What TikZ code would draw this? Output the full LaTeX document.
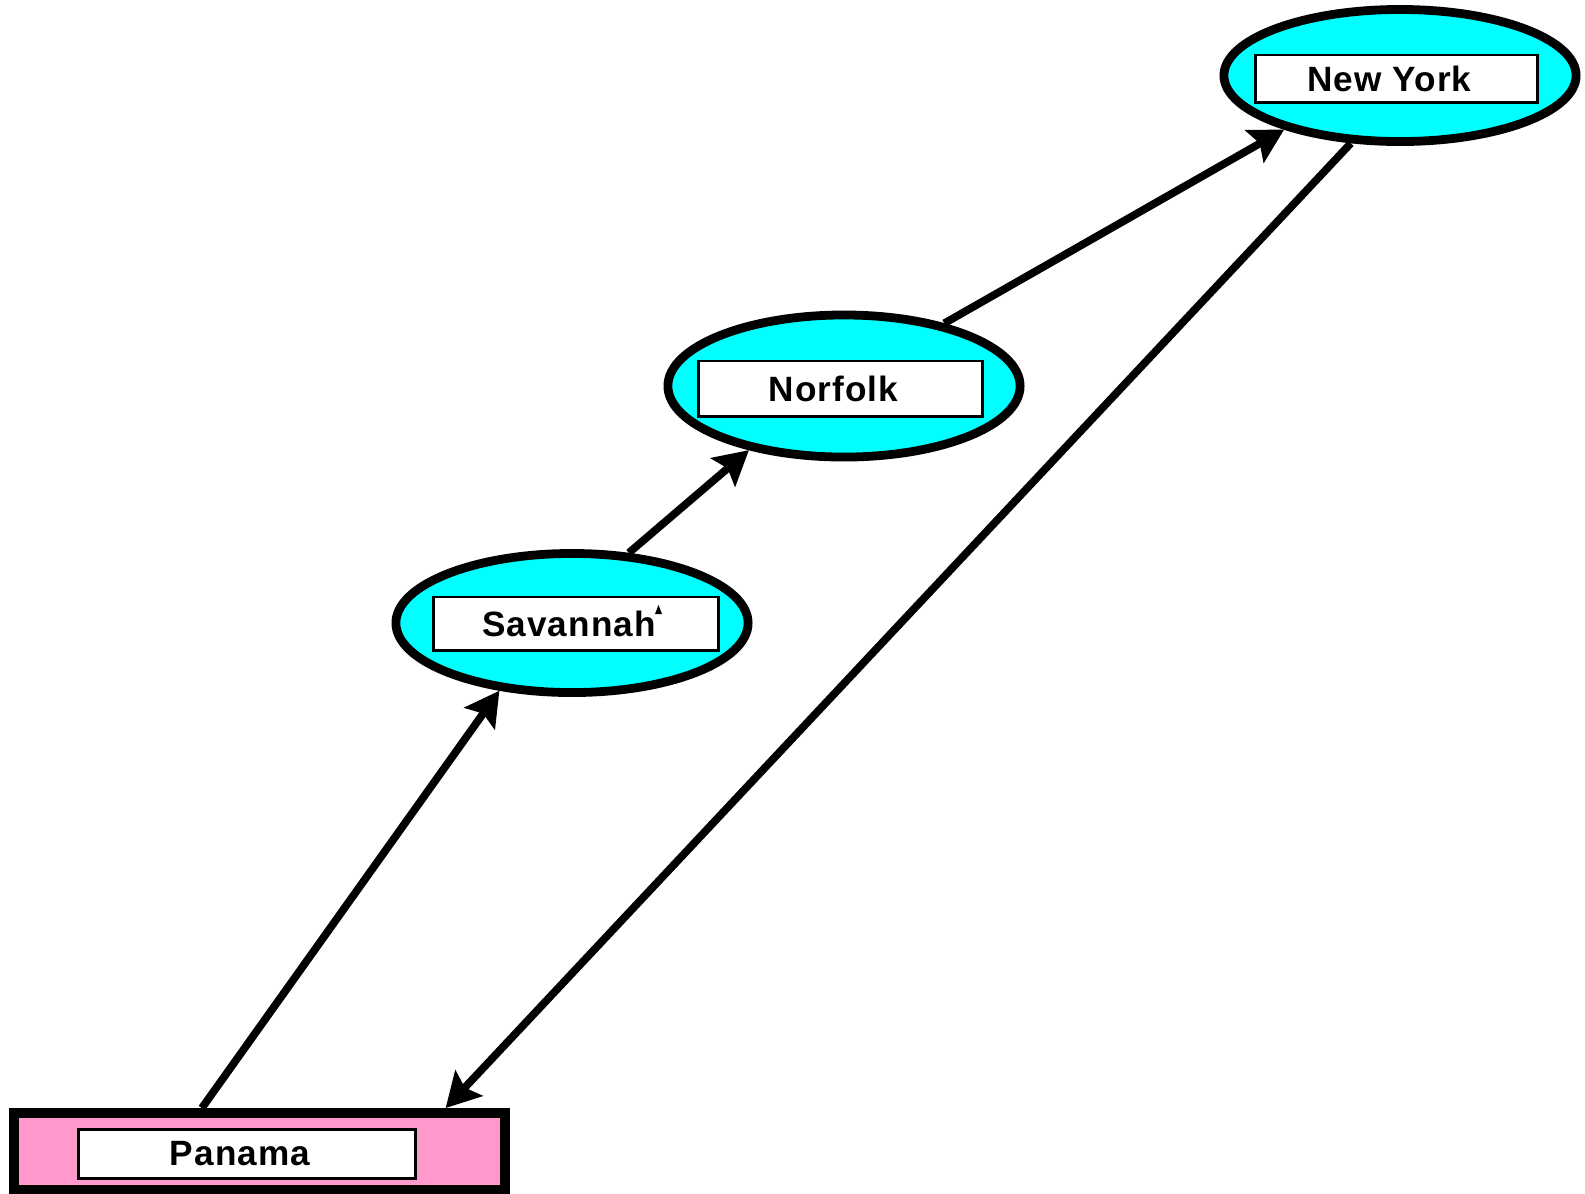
\documentclass[tikz,border=0pt]{standalone}
\usepackage{fontspec}
\setmainfont{Liberation Sans}[LetterSpace=3]
\usepackage{tikz}
\usetikzlibrary{positioning,shapes.geometric,arrows.meta}

\definecolor{portcyan}{RGB}{0,255,255}
\definecolor{canalpink}{RGB}{255,153,204}

\begin{document}
\begin{tikzpicture}[x=0.01cm, y=-0.01cm,
	port/.style = {ellipse, draw, line width=2.5pt, fill=portcyan, minimum width=3.52cm, minimum height=1.32cm, inner sep=0pt},
	tag/.style = {rectangle, draw, line width=0.85pt, fill=white, inner sep=0pt, font=\bfseries\fontsize{10}{12}\selectfont, execute at end node=\hspace{1.4mm}},
	route/.style = {line width=2.2pt, -{Stealth[length=3.4mm,width=3.7mm,inset=0.6mm]}}]
	\useasboundingbox (0,0) rectangle (1585,1193);

	\node[port] (ny) at (1400,75.5) {};
	\node[tag, minimum width=2.81cm, minimum height=0.47cm] (nyTag) at (1396.5,78.5) {New York};

	\node[port, minimum height=1.42cm] (nor) at (844,386) {};
	\node[tag, minimum width=2.83cm, minimum height=0.55cm] (norTag) at (840.5,388.5) {Norfolk};

	\node[port, minimum height=1.39cm] (sav) at (572,623) {};
	\node[tag, minimum width=2.84cm, minimum height=0.53cm] (savTag) at (576,623.5) {Savannah};
	\fill (655,614) -- (658.5,605) -- (662,614) -- cycle;

	\node[draw, line width=2.8pt, fill=canalpink, minimum width=4.91cm, minimum height=0.77cm, inner sep=0pt] (pan) at (259.5,1151.5) {};
	\node[tag, minimum width=3.37cm, minimum height=0.49cm] (panTag) at (247,1154) {Panama};

	\draw[route] (pan.143) -- (sav.223);
	\draw[route] (sav.51) -- (nor.214);
	\draw[route] (nor.32) -- (ny.205);
	\draw[route] (ny.234) -- ([xshift=1.86cm]pan.north);
\end{tikzpicture}
\end{document}
